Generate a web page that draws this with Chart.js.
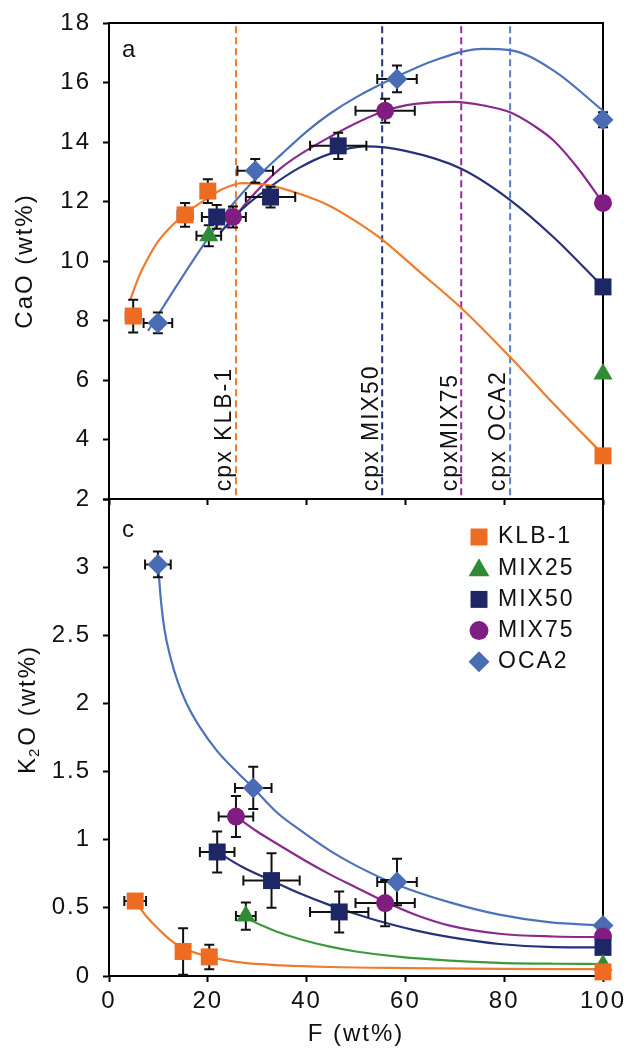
<!DOCTYPE html>
<html>
<head>
<meta charset="utf-8">
<script src="https://cdn.jsdelivr.net/npm/chart.js@4.4.1/dist/chart.umd.min.js"></script>
<style>
  html, body { margin: 0; padding: 0; background: #fff; }
  #wrap { position: relative; width: 626px; height: 1055px; }
  #top { position: absolute; left: 0; top: 0; }
  #bot { position: absolute; left: 0; top: 470px; }
</style>
</head>
<body>
<div id="wrap">
  <canvas id="top" width="626" height="540"></canvas>
  <canvas id="bot" width="626" height="585"></canvas>
</div>
<script>
// series
const seriesNames = ['KLB-1', 'MIX25', 'MIX50', 'MIX75', 'OCA2'];

// panel a: CaO (wt%) vs F (wt%)
const caoF = [
  [4.9, 15.4, 20.0, 100],
  [20.2, 100],
  [21.8, 32.7, 46.4, 100],
  [25.1, 55.9, 100],
  [9.9, 29.6, 58.3, 100]
];
const caoVal = [
  [8.15, 11.55, 12.35, 3.45],
  [10.85, 6.2],
  [11.48, 12.15, 13.87, 9.13],
  [11.48, 15.05, 11.95],
  [7.92, 13.03, 16.12, 14.75]
];
const caoFErr = [
  [1.5, 1.5, 1.2, 0],
  [2.5, 0],
  [3, 5, 5.7, 0],
  [2.6, 6, 0],
  [2.9, 3.6, 4, 0]
];
const caoErr = [
  [0.55, 0.4, 0.4, 0],
  [0.35, 0],
  [0.4, 0.35, 0.44, 0],
  [0.35, 0.4, 0],
  [0.35, 0.4, 0.45, 0.25]
];
// fitted curves
const caoFitF = [
  [4.3, 6, 7.7, 9.9, 12.5, 15.4, 20, 23, 27, 32, 38.7, 44.7, 50, 55.3, 63, 71.3, 81.2, 90, 100],
  [],
  [22.5, 27, 32.6, 38.5, 44.7, 52, 60, 71.3, 81.2, 90, 100],
  [23.8, 28, 34.6, 44.7, 55.9, 62, 70, 76, 81.2, 86, 90, 95, 100],
  [7.9, 14.4, 20.4, 25, 29.6, 35, 40, 44.7, 50, 58.3, 66, 75.7, 81.2, 90, 100]
];
const caoFitVal = [
  [8.69, 9.45, 10.03, 10.65, 11.15, 11.58, 12.12, 12.42, 12.62, 12.56, 12.25, 11.85, 11.33, 10.72, 9.62, 8.42, 6.77, 5.2, 3.5],
  [],
  [10.95, 11.75, 12.49, 13.13, 13.6, 13.85, 13.7, 13.1, 12.05, 10.8, 9.13],
  [11.1, 12.0, 13.1, 14.17, 15.05, 15.28, 15.35, 15.22, 15.0, 14.55, 14.05, 13.1, 11.95],
  [7.65, 9.35, 10.85, 11.9, 12.75, 13.6, 14.35, 14.95, 15.5, 16.2, 16.75, 17.13, 17.09, 16.4, 15.05]
];
// cpx-out lines
const cpxNames = ['cpx KLB-1', 'cpx MIX50', 'cpxMIX75', 'cpx OCA2'];
const cpxF = [25.7, 55.3, 71.3, 81.2];
const cpxRange = [2.13, 18];

// panel c: K2O (wt%) vs F (wt%)
const k2oF = [
  [5.3, 15.0, 20.3, 100],
  [27.7, 100],
  [21.9, 32.9, 46.6, 100],
  [25.7, 55.9, 100],
  [9.9, 29.2, 58.3, 100]
];
const k2oVal = [
  [0.55, 0.18, 0.14, 0.03],
  [0.44, 0.08],
  [0.91, 0.70, 0.47, 0.21],
  [1.17, 0.535, 0.29],
  [3.02, 1.38, 0.69, 0.37]
];
const k2oFErr = [
  [2.2, 1, 1, 0],
  [2, 0],
  [3.5, 5.7, 5.9, 0],
  [3.5, 6, 0],
  [2.6, 3.7, 4, 0]
];
const k2oErr = [
  [0.05, 0.17, 0.09, 0],
  [0.1, 0],
  [0.15, 0.2, 0.15, 0],
  [0.15, 0.17, 0],
  [0.095, 0.155, 0.17, 0]
];
const k2oFitF = [
  [5.3, 7.5, 10.3, 12.5, 15, 20.3, 27, 35, 44.7, 60, 80, 100],
  [27.7, 31, 34, 38.7, 44.7, 50, 58.9, 69, 79, 90, 100],
  [21.9, 27, 32.9, 38.7, 44.7, 50, 55, 62, 69, 79, 90, 100],
  [25.7, 30, 34, 40, 45, 50, 55.9, 62, 69, 79, 90, 100],
  [10, 10.4, 11.2, 12.5, 14, 15.7, 18.5, 21.9, 26.1, 29.2, 34, 38.7, 44.7, 50, 58.3, 69, 79, 89, 100]
];
const k2oFitVal = [
  [0.55, 0.44, 0.335, 0.262, 0.205, 0.14, 0.098, 0.078, 0.066, 0.058, 0.052, 0.05],
  [0.43, 0.37, 0.325, 0.27, 0.215, 0.18, 0.14, 0.113, 0.097, 0.09, 0.088],
  [0.91, 0.8, 0.70, 0.605, 0.52, 0.455, 0.4, 0.335, 0.285, 0.235, 0.212, 0.21],
  [1.17, 1.06, 0.97, 0.84, 0.74, 0.65, 0.545, 0.45, 0.37, 0.31, 0.29, 0.285],
  [3.0, 2.8, 2.55, 2.33, 2.15, 2.0, 1.82, 1.65, 1.49, 1.38, 1.2, 1.07, 0.92, 0.81, 0.67, 0.54, 0.45, 0.395, 0.37]
];

// styles
const markerColors = ['#EE6B22', '#2F8C34', '#1E2766', '#7F1E80', '#4A6CB4'];
const lineColors = ['#F07B2C', '#3C9A3C', '#26317A', '#8A2A8E', '#4D72BC'];
const cpxColors = ['#F07A2A', '#27327D', '#9B2A9E', '#5A7DC5'];
const markerStyles = ['rect', 'triangle', 'rect', 'circle', 'rectRot'];
const markerRadii = [12, 11, 12, 9, 10.5];
const FONT = '"Liberation Sans", Arial, sans-serif';

Chart.defaults.font.family = FONT;
Chart.defaults.font.size = 24;
Chart.defaults.color = '#111';

function pointSets(fs, vals, fErr, vErr) {
  return seriesNames.map((name, i) => ({
    label: name,
    data: fs[i].map((f, j) => ({ x: f, y: vals[i][j] })),
    xErr: fErr[i],
    yErr: vErr[i],
    pointStyle: markerStyles[i],
    pointRadius: markerRadii[i],
    backgroundColor: markerColors[i],
    borderColor: markerColors[i],
    borderWidth: 0,
    showLine: false,
    clip: false,
    order: 0
  }));
}

function fitSets(fs, vals) {
  return seriesNames.map((name, i) => ({
    label: name + ' fit',
    data: fs[i].map((f, j) => ({ x: f, y: vals[i][j] })),
    showLine: true,
    pointRadius: 0,
    borderColor: lineColors[i],
    borderWidth: 2.2,
    cubicInterpolationMode: 'monotone',
    fill: false,
    order: 1
  }));
}

function axisStyle() {
  return {
    grid: { drawOnChartArea: false, drawTicks: true, tickLength: 6, tickColor: '#000', tickWidth: 2 },
    border: { display: true, color: '#000', width: 2 }
  };
}

// wider lettering like the source figure
const spacing = {
  id: 'spacing',
  beforeLayout(chart) { chart.ctx.letterSpacing = '2px'; },
  beforeDraw(chart) { chart.ctx.letterSpacing = '2px'; }
};

// frame: top (optional) and right edges
function frame(withTop) {
  return {
    id: 'frame',
    beforeDatasetsDraw(chart) {
      const { ctx, chartArea: a } = chart;
      ctx.save();
      ctx.strokeStyle = '#000';
      ctx.lineWidth = 2;
      ctx.beginPath();
      if (withTop) { ctx.moveTo(a.left, a.top); ctx.lineTo(a.right, a.top); }
      else { ctx.moveTo(a.right, a.top); }
      ctx.lineTo(a.right, a.bottom);
      ctx.stroke();
      ctx.restore();
    }
  };
}

// error bars under the markers
const errorBars = {
  id: 'errorBars',
  beforeDatasetDraw(chart, args) {
    if (args.index !== seriesNames.length - 1) return;
    const ctx = chart.ctx, xs = chart.scales.x, ys = chart.scales.y;
    const cap = 5;
    ctx.save();
    ctx.strokeStyle = '#111';
    ctx.lineWidth = 2;
    chart.data.datasets.forEach(ds => {
      if (!ds.xErr) return;
      ds.data.forEach((p, j) => {
        const cx = xs.getPixelForValue(p.x), cy = ys.getPixelForValue(p.y);
        const ex = ds.xErr[j], ey = ds.yErr[j];
        ctx.beginPath();
        if (ex) {
          const l = xs.getPixelForValue(p.x - ex), r = xs.getPixelForValue(p.x + ex);
          ctx.moveTo(l, cy); ctx.lineTo(r, cy);
          ctx.moveTo(l, cy - cap); ctx.lineTo(l, cy + cap);
          ctx.moveTo(r, cy - cap); ctx.lineTo(r, cy + cap);
        }
        if (ey) {
          const t = ys.getPixelForValue(p.y + ey), b = ys.getPixelForValue(p.y - ey);
          ctx.moveTo(cx, t); ctx.lineTo(cx, b);
          ctx.moveTo(cx - cap, t); ctx.lineTo(cx + cap, t);
          ctx.moveTo(cx - cap, b); ctx.lineTo(cx + cap, b);
        }
        ctx.stroke();
      });
    });
    ctx.restore();
  }
};

// panel a labels: "a" and cpx names
const labelsA = {
  id: 'labelsA',
  afterDraw(chart) {
    const { ctx, chartArea: a } = chart;
    const xs = chart.scales.x, ys = chart.scales.y;
    ctx.save();
    ctx.fillStyle = '#111';
    ctx.font = '24px ' + FONT;
    ctx.textBaseline = 'middle';
    ctx.textAlign = 'left';
    ctx.fillText('a', a.left + 13, a.top + 27);
    ctx.font = '23px ' + FONT;
    cpxNames.forEach((name, i) => {
      ctx.save();
      ctx.translate(xs.getPixelForValue(cpxF[i]) - 11, ys.getPixelForValue(cpxRange[0]) - 4);
      ctx.rotate(-Math.PI / 2);
      ctx.fillText(name, 0, 0);
      ctx.restore();
    });
    ctx.restore();
  }
};

// panel c labels: "c", legend, K2O title
const labelsC = {
  id: 'labelsC',
  afterDraw(chart) {
    const { ctx, chartArea: a } = chart;
    ctx.save();
    ctx.fillStyle = '#111';
    ctx.font = '24px ' + FONT;
    ctx.textBaseline = 'middle';
    ctx.textAlign = 'left';
    ctx.fillText('c', a.left + 13, a.top + 31);

    // legend
    ctx.font = '23px ' + FONT;
    const lx = a.right - 124, ly = a.top + 38, step = 31.2;
    const legR = [12, 12, 12, 9.5, 10.5];
    seriesNames.forEach((name, i) => {
      const y = ly + i * step;
      ctx.fillStyle = markerColors[i];
      ctx.beginPath();
      const r = legR[i];
      if (markerStyles[i] === 'rect') {
        const s = r * Math.SQRT1_2;
        ctx.rect(lx - s, y - s, 2 * s, 2 * s);
      } else if (markerStyles[i] === 'triangle') {
        const ty = y + 2;
        ctx.moveTo(lx, ty - r);
        ctx.lineTo(lx + r * 0.866, ty + r / 2);
        ctx.lineTo(lx - r * 0.866, ty + r / 2);
        ctx.closePath();
      } else if (markerStyles[i] === 'circle') {
        ctx.arc(lx, y, r, 0, Math.PI * 2);
      } else {
        ctx.moveTo(lx, y - r); ctx.lineTo(lx + r, y);
        ctx.lineTo(lx, y + r); ctx.lineTo(lx - r, y);
        ctx.closePath();
      }
      ctx.fill();
      ctx.fillStyle = '#111';
      ctx.fillText(name, lx + 19, y);
    });

    // y title with subscript
    ctx.save();
    ctx.translate(28, a.top + (a.bottom - a.top) / 2 - 28);
    ctx.rotate(-Math.PI / 2);
    const big = '24px ' + FONT, small = '15px ' + FONT;
    ctx.font = big;
    const wK = ctx.measureText('K').width;
    const wR = ctx.measureText('O (wt%)').width;
    ctx.font = small;
    const w2 = ctx.measureText('2').width;
    let x0 = -(wK + w2 + wR) / 2;
    ctx.font = big;
    ctx.fillText('K', x0, 0);
    ctx.font = small;
    ctx.fillText('2', x0 + wK - 1, 7);
    ctx.font = big;
    ctx.fillText('O (wt%)', x0 + wK + w2, 0);
    ctx.restore();
    ctx.restore();
  }
};

// panel a
const cpxSets = cpxF.map((f, i) => ({
  label: cpxNames[i],
  data: [{ x: f, y: cpxRange[0] }, { x: f, y: cpxRange[1] }],
  showLine: true,
  pointRadius: 0,
  borderColor: cpxColors[i],
  borderWidth: 2,
  borderDash: [7, 4],
  order: 2
}));

// keep the plot box fixed regardless of label overhang
function fixX(h) {
  return function (s) { s.height = h; s.paddingLeft = 0; s.paddingRight = 0; };
}
function fixY(s) { s.width = 109; s.paddingTop = 0; s.paddingBottom = 0; }

new Chart(document.getElementById('top'), {
  type: 'scatter',
  data: {
    datasets: [
      ...pointSets(caoF, caoVal, caoFErr, caoErr),
      ...fitSets(caoFitF, caoFitVal),
      ...cpxSets
    ]
  },
  options: {
    responsive: false,
    animation: false,
    events: [],
    layout: { padding: { left: 0, right: 23, top: 23, bottom: 0 } },
    plugins: { legend: { display: false }, tooltip: { enabled: false } },
    scales: {
      x: {
        type: 'linear', min: 0, max: 100,
        ticks: { stepSize: 20, display: false },
        ...axisStyle(),
        afterFit: fixX(41)
      },
      y: {
        type: 'linear', min: 2, max: 18,
        ticks: { stepSize: 2, padding: 12 },
        title: { display: true, text: 'CaO (wt%)', padding: { top: 11, bottom: 0 } },
        ...axisStyle(),
        afterFit: fixY
      }
    }
  },
  plugins: [spacing, frame(true), errorBars, labelsA]
});

// panel c
new Chart(document.getElementById('bot'), {
  type: 'scatter',
  data: {
    datasets: [
      ...pointSets(k2oF, k2oVal, k2oFErr, k2oErr),
      ...fitSets(k2oFitF, k2oFitVal)
    ]
  },
  options: {
    responsive: false,
    animation: false,
    events: [],
    layout: { padding: { left: 0, right: 23, top: 29, bottom: 0 } },
    plugins: { legend: { display: false }, tooltip: { enabled: false } },
    scales: {
      x: {
        type: 'linear', min: 0, max: 100,
        ticks: { stepSize: 20, padding: 5 },
        title: { display: true, text: 'F (wt%)', padding: { top: 0, bottom: 6 } },
        ...axisStyle(),
        afterFit: fixX(79)
      },
      y: {
        type: 'linear', min: 0, max: 3.5,
        ticks: { stepSize: 0.5, padding: 12, callback: v => (v >= 3.5 ? '' : String(v)) },
        ...axisStyle(),
        afterFit: fixY
      }
    }
  },
  plugins: [spacing, frame(false), errorBars, labelsC]
});
</script>
</body>
</html>
